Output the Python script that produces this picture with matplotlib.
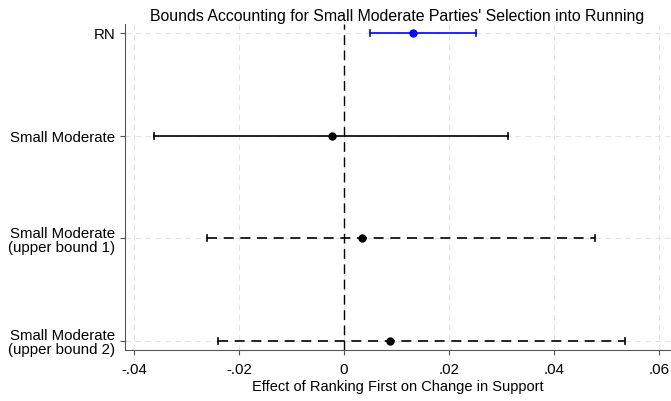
import matplotlib.pyplot as plt
import numpy as np

plt.rcParams['font.family'] = ['Liberation Sans', 'DejaVu Sans']

labels = ['RN', 'Small Moderate', 'Small Moderate\n(upper bound 1)', 'Small Moderate\n(upper bound 2)']
estimates = [0.0131, -0.0023, 0.0034, 0.0088]
ci_low = [0.0050, -0.0362, -0.0261, -0.0240]
ci_high = [0.0251, 0.0312, 0.0478, 0.0535]
colors = ['#0000ff', 'black', 'black', 'black']
styles = ['-', '-', '--', '--']
xticks = [-0.04, -0.02, 0, 0.02, 0.04, 0.06]
xticklabels = ['-.04', '-.02', '0', '.02', '.04', '.06']

fig = plt.figure(figsize=(6.71, 4.02), dpi=100)
ax = fig.add_axes([0.1863, 0.127, 0.8122, 0.811])

ypos = np.arange(len(labels))
for y, est, lo, hi, c, ls in zip(ypos, estimates, ci_low, ci_high, colors, styles):
    ax.plot([lo, hi], [y, y], color=c, linestyle=ls, lw=1.2,
            dashes=(6, 4) if ls == '--' else (None, None), zorder=3)
    ax.plot([lo, lo], [y - 0.03, y + 0.03], color=c, lw=1.2, zorder=3)
    ax.plot([hi, hi], [y - 0.03, y + 0.03], color=c, lw=1.2, zorder=3)
    ax.plot(est, y, 'o', color=c, ms=5, zorder=4)

ax.axvline(0, color='black', lw=1, dashes=(7, 4), zorder=2)

for x in xticks:
    ax.axvline(x, color='#e3e3e3', lw=0.8, dashes=(5, 4), zorder=1)
for y in ypos:
    ax.axhline(y, color='#e3e3e3', lw=0.8, dashes=(5, 4), zorder=1)

ax.set_xlim(-0.0417, 0.0621)
ax.set_ylim(3.088, -0.088)
ax.set_yticks(ypos)
ax.set_yticklabels(labels, fontsize=10.8)
ax.set_xticks(xticks)
ax.set_xticklabels(xticklabels, fontsize=10.8)
ax.tick_params(axis='both', direction='out', length=3.5, color='#555555')
ax.tick_params(axis='x', pad=5)
ax.spines['top'].set_visible(False)
ax.spines['right'].set_visible(False)
ax.spines['left'].set_color('#555555')
ax.spines['bottom'].set_color('#555555')
for t in ax.get_yticklabels():
    t.set_linespacing(1.0)

ax.set_xlabel('Effect of Ranking First on Change in Support', fontsize=10.5, labelpad=2)
ax.set_title("Bounds Accounting for Small Moderate Parties' Selection into Running",
             fontsize=11.4, pad=3)

fig.savefig('out.png', dpi=100)
